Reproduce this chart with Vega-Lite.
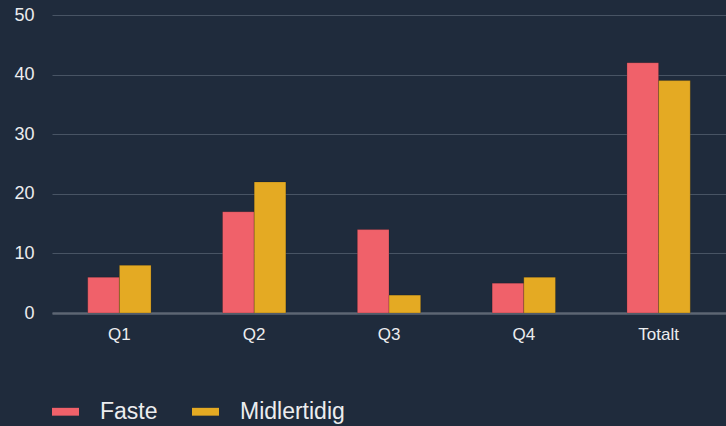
{
  "$schema": "https://vega.github.io/schema/vega-lite/v6.json",
  "width": 674,
  "height": 298,
  "autosize": "none",
  "padding": {"left": 52, "top": 15, "right": 0, "bottom": 113},
  "background": "#1f2b3c",
  "config": {
    "view": {"stroke": null},
    "font": "Liberation Sans"
  },
  "data": {
    "values": [
      {"kvartal": "Q1", "type": "Faste", "antall": 6},
      {"kvartal": "Q1", "type": "Midlertidig", "antall": 8},
      {"kvartal": "Q2", "type": "Faste", "antall": 17},
      {"kvartal": "Q2", "type": "Midlertidig", "antall": 22},
      {"kvartal": "Q3", "type": "Faste", "antall": 14},
      {"kvartal": "Q3", "type": "Midlertidig", "antall": 3},
      {"kvartal": "Q4", "type": "Faste", "antall": 5},
      {"kvartal": "Q4", "type": "Midlertidig", "antall": 6},
      {"kvartal": "Totalt", "type": "Faste", "antall": 42},
      {"kvartal": "Totalt", "type": "Midlertidig", "antall": 39}
    ]
  },
  "mark": {"type": "bar", "stroke": "#000000", "strokeOpacity": 0.18, "strokeWidth": 1},
  "encoding": {
    "x": {
      "field": "kvartal",
      "type": "nominal",
      "sort": ["Q1", "Q2", "Q3", "Q4", "Totalt"],
      "scale": {"paddingInner": 0.53, "paddingOuter": 0.265},
      "axis": {
        "title": null,
        "labelAngle": 0,
        "labelFontSize": 17,
        "labelColor": "#ecedef",
        "labelPadding": 13,
        "ticks": false,
        "domainColor": "#5d6673",
        "domainWidth": 2.5,
        "grid": false
      }
    },
    "xOffset": {"field": "type", "type": "nominal", "sort": ["Faste", "Midlertidig"]},
    "y": {
      "field": "antall",
      "type": "quantitative",
      "scale": {"domain": [0, 50], "nice": false},
      "axis": {
        "title": null,
        "values": [0, 10, 20, 30, 40, 50],
        "labelFontSize": 18,
        "labelColor": "#ecedef",
        "labelPadding": 18,
        "ticks": false,
        "domain": false,
        "gridColor": "#485464",
        "gridWidth": 1
      }
    },
    "color": {
      "field": "type",
      "type": "nominal",
      "sort": ["Faste", "Midlertidig"],
      "scale": {"domain": ["Faste", "Midlertidig"], "range": ["#f0616a", "#e4aa23"]},
      "legend": {
        "title": null,
        "orient": "none",
        "direction": "horizontal",
        "legendX": 0,
        "legendY": 383,
        "padding": 0,
        "symbolType": "M-1,-0.29L1,-0.29L1,0.29L-1,0.29Z",
        "symbolSize": 729,
        "symbolStrokeWidth": 0,
        "symbolOpacity": 1,
        "labelFontSize": 23,
        "labelColor": "#ecedef",
        "labelOffset": 21,
        "columnPadding": 34,
        "labelLimit": 300
      }
    }
  }
}
